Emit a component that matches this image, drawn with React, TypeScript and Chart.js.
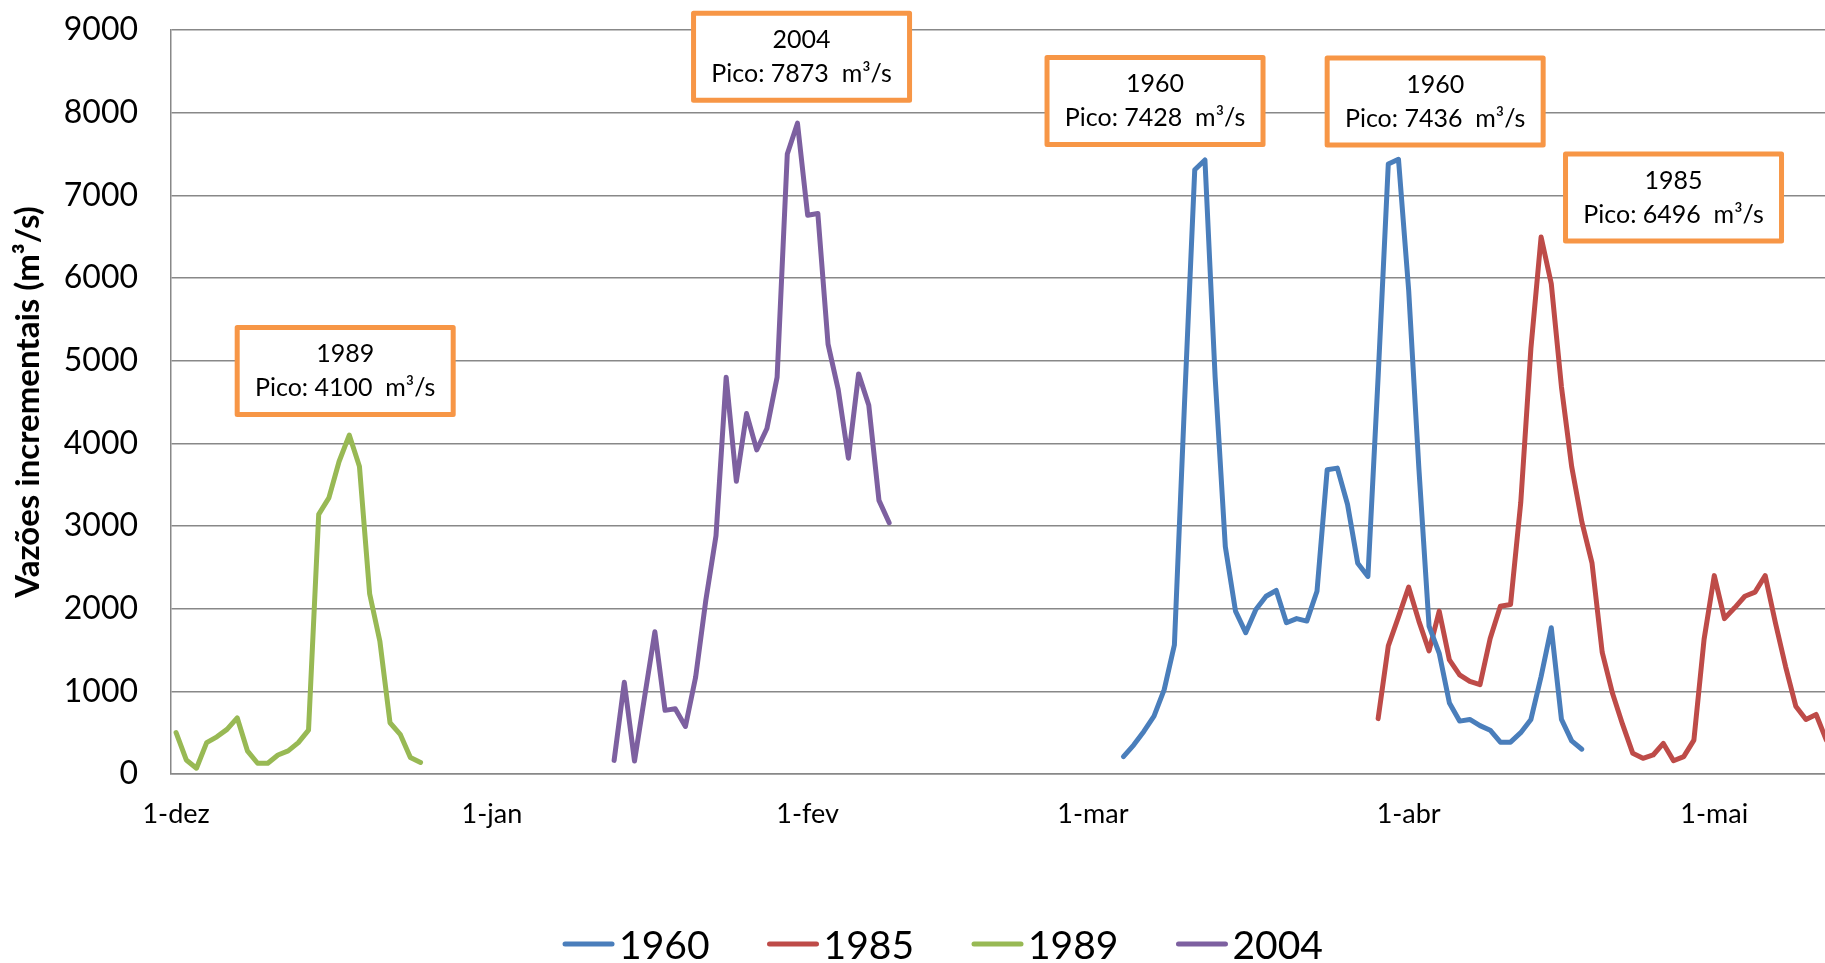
import React, { useEffect, useRef } from 'react';
import { Chart, registerables } from 'chart.js';

Chart.register(...registerables);

// ---- Axis / category data (day 0 = 1-dez) ----
const monthTickDays = [0, 31, 62, 90, 121, 151];
const monthTickLabels = ['1-dez', '1-jan', '1-fev', '1-mar', '1-abr', '1-mai'];
const yTickValues = [0, 1000, 2000, 3000, 4000, 5000, 6000, 7000, 8000, 9000];

// ---- Series ----
const seriesNames = ['1960', '1985', '1989', '2004'];

const start1960 = 93;
const values1960 = [
  210, 350, 515, 700, 1020, 1560, 4500, 7310, 7428, 4800,
  2750, 1970, 1710, 1990, 2150, 2220, 1830, 1880, 1850, 2210,
  3680, 3700, 3260, 2550, 2390, 4800, 7380, 7436, 5850, 3700,
  1790, 1460, 860, 640, 660, 585, 530, 385, 385, 500,
  660, 1180, 1770, 660, 400, 300,
];

const start1985 = 118;
const values1985 = [
  670, 1550, 1900, 2260, 1850, 1490, 1970, 1380, 1200, 1120,
  1080, 1640, 2030, 2050, 3280, 5150, 6496, 5930, 4680, 3720,
  3050, 2550, 1470, 980, 600, 250, 190, 230, 370, 160,
  210, 410, 1630, 2400, 1880, 2010, 2150, 2200, 2400, 1830,
  1300, 820, 660, 720, 410,
];

const start1989 = 0;
const values1989 = [
  500, 170, 70, 380, 450, 540, 680, 280, 130, 130,
  230, 280, 380, 530, 3140, 3340, 3780, 4100, 3720, 2180,
  1610, 620, 480, 200, 140,
];

const start2004 = 43;
const values2004 = [
  165, 1110, 157, 940, 1720, 770, 790, 575, 1170, 2100,
  2880, 4800, 3540, 4360, 3920, 4180, 4800, 7500, 7873, 6760,
  6780, 5200, 4650, 3820, 4840, 4460, 3310, 3040,
];

// ---- Peak annotations (box centre in data units) ----
const annotYears = ['1989', '2004', '1960', '1960', '1985'];
const annotPeaks = [4100, 7873, 7428, 7436, 6496];
const annotDays = [16.6, 61.4, 96.1, 123.6, 147.0];
const annotValues = [4875, 8677, 8141, 8135, 6974];

const COLORS = ['#4A7EBB', '#BE4B48', '#98B954', '#7D60A0'];
const FONT = 'Lato, "Open Sans", sans-serif';

const toPoints = (start: number, values: number[]) =>
  values.map((v, i) => ({ x: start + i, y: v }));

const overlayPlugin = {
  id: 'overlay',
  afterDraw(chart: any) {
    const ctx = chart.ctx as CanvasRenderingContext2D;
    const xs = chart.scales.x;
    const ys = chart.scales.y;

    // Annotation boxes
    annotYears.forEach((yr, i) => {
      const cx = xs.getPixelForValue(annotDays[i]);
      const cy = ys.getPixelForValue(annotValues[i]);
      const w = 216;
      const h = 87;
      ctx.save();
      ctx.fillStyle = '#ffffff';
      ctx.fillRect(cx - w / 2, cy - h / 2, w, h);
      ctx.strokeStyle = '#F79646';
      ctx.lineWidth = 5;
      ctx.lineJoin = 'round';
      ctx.strokeRect(cx - w / 2, cy - h / 2, w, h);
      ctx.fillStyle = '#000000';
      ctx.font = `25px ${FONT}`;
      ctx.textAlign = 'center';
      ctx.textBaseline = 'middle';
      ctx.fillText(yr, cx, cy - 17);
      ctx.fillText(`Pico: ${annotPeaks[i]}  m³/s`, cx, cy + 17);
      ctx.restore();
    });

    // Legend
    ctx.save();
    ctx.font = `39px ${FONT}`;
    const lineLen = 51;
    const textGap = 5;
    const itemGap = 58;
    const widths = seriesNames.map((n) => ctx.measureText(n).width);
    const total =
      widths.reduce((a, b) => a + b, 0) + seriesNames.length * (lineLen + textGap) + (seriesNames.length - 1) * itemGap;
    let x = 943 - total / 2;
    const lineY = 944;
    const textY = 959;
    seriesNames.forEach((n, i) => {
      ctx.strokeStyle = COLORS[i];
      ctx.lineWidth = 5;
      ctx.lineCap = 'round';
      ctx.beginPath();
      ctx.moveTo(x + 2, lineY);
      ctx.lineTo(x + lineLen - 2, lineY);
      ctx.stroke();
      ctx.fillStyle = '#000000';
      ctx.textAlign = 'left';
      ctx.textBaseline = 'alphabetic';
      ctx.fillText(n, x + lineLen + textGap, textY);
      x += lineLen + textGap + widths[i] + itemGap;
    });
    ctx.restore();
  },
};

export default function App() {
  const canvasRef = useRef<HTMLCanvasElement | null>(null);

  useEffect(() => {
    if (!canvasRef.current) return;
    Chart.defaults.font.family = FONT;
    const starts = [start1960, start1985, start1989, start2004];
    const vals = [values1960, values1985, values1989, values2004];
    const chart = new Chart(canvasRef.current, {
      type: 'line',
      data: {
        datasets: seriesNames.map((name, i) => ({
          label: name,
          data: toPoints(starts[i], vals[i]),
          borderColor: COLORS[i],
          backgroundColor: COLORS[i],
          borderWidth: 5,
          pointRadius: 0,
          pointHoverRadius: 0,
          tension: 0,
          fill: false,
          borderJoinStyle: 'round',
          borderCapStyle: 'round',
        })),
      },
      options: {
        responsive: false,
        animation: false,
        events: [],
        layout: { padding: { top: 30, left: 0, right: 0, bottom: 0 } },
        plugins: {
          legend: { display: false },
          tooltip: { enabled: false },
        },
        scales: {
          x: {
            type: 'linear',
            min: -0.5,
            max: 161.87,
            afterBuildTicks: (axis: any) => {
              axis.ticks = monthTickDays.map((v) => ({ value: v }));
            },
            afterFit: (s: any) => {
              s.height = 189;
              s.paddingLeft = 0;
              s.paddingRight = 0;
            },
            ticks: {
              autoSkip: false,
              maxRotation: 0,
              padding: 24,
              color: '#000000',
              font: { family: FONT, size: 27 },
              callback: (v: any) => {
                const idx = monthTickDays.indexOf(Number(v));
                return idx >= 0 ? monthTickLabels[idx] : '';
              },
            },
            grid: { display: false, drawTicks: false },
            border: { display: true, color: '#888888', width: 1.5 },
          },
          y: {
            type: 'linear',
            min: 0,
            max: 9000,
            afterBuildTicks: (axis: any) => {
              axis.ticks = yTickValues.map((v) => ({ value: v }));
            },
            afterFit: (s: any) => {
              s.width = 171;
              s.paddingTop = 0;
              s.paddingBottom = 0;
            },
            ticks: {
              padding: 33,
              color: '#000000',
              font: { family: FONT, size: 32 },
              callback: (v: any) => String(v),
            },
            grid: { color: '#888888', lineWidth: 1.5, drawTicks: false },
            border: { display: true, color: '#888888', width: 1.5 },
            title: {
              display: true,
              text: 'Vazões incrementais (m³/s)',
              color: '#000000',
              font: { family: FONT, size: 33, weight: 'bold' },
              padding: { top: 9, bottom: 0 },
            },
          },
        },
      },
      plugins: [overlayPlugin],
    } as any);
    return () => chart.destroy();
  }, []);

  return (
    <div style={{ position: 'fixed', left: 0, top: 0, width: 1825, height: 963, background: '#ffffff' }}>
      <canvas ref={canvasRef} width={1825} height={963} style={{ display: 'block' }} />
    </div>
  );
}
